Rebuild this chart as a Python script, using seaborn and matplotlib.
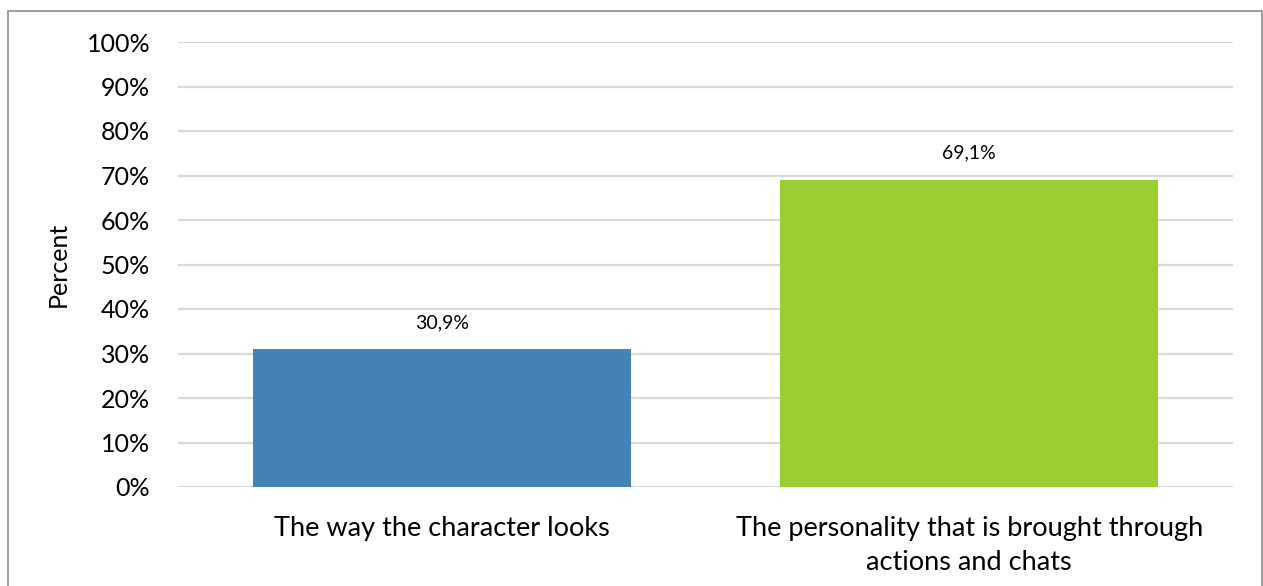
import matplotlib
matplotlib.use("Agg")
import matplotlib.pyplot as plt
import matplotlib.patches as mpatches
import seaborn as sns
import pandas as pd

categories = ["The way the character looks",
              "The personality that is brought through\nactions and chats"]
values = [30.9, 69.1]
value_labels = ["30,9%", "69,1%"]
yticks = [0, 10, 20, 30, 40, 50, 60, 70, 80, 90, 100]
ytick_labels = [f"{t}%" for t in yticks]
colors = ["#4682B4", "#9ACD32"]

sns.set_theme(style="white")
plt.rcParams["font.family"] = ["Lato", "DejaVu Sans"]

df = pd.DataFrame({"category": categories, "value": values})

fig = plt.figure(figsize=(12.63, 5.86), dpi=100)
ax = fig.add_axes([178 / 1263, 1 - 487 / 586, (1233 - 178) / 1263, (487 - 42) / 586])

sns.barplot(data=df, x="category", y="value", hue="category", palette=colors,
            width=0.717, legend=False, ax=ax, saturation=1, linewidth=0)

ax.set_ylim(0, 100)
ax.set_xlim(-0.5, 1.5)
ax.set_yticks(yticks)
ax.set_yticklabels(ytick_labels)
ax.yaxis.grid(True, color="#d9d9d9", linewidth=1.6)
ax.set_axisbelow(True)
for s in ax.spines.values():
    s.set_visible(False)
ax.tick_params(axis="y", length=0, pad=20, labelsize=18, labelcolor="black")
ax.tick_params(axis="x", length=0, pad=21, labelsize=19.5, labelcolor="black")
for t in ax.get_xticklabels():
    t.set_linespacing(1.45)
ax.set_xlabel("")
ax.set_ylabel("Percent", fontsize=18, color="black", labelpad=12)

for i, (v, lab) in enumerate(zip(values, value_labels)):
    ax.annotate(lab, xy=(i, v), xytext=(0, 13), textcoords="offset points",
                ha="center", va="bottom", fontsize=14, color="black")

border = mpatches.Rectangle((8 / 1263, -0.1), (1262 - 8) / 1263, 1.1 - 11 / 586,
                            transform=fig.transFigure, fill=False,
                            edgecolor="#8c8c8c", linewidth=1.2, clip_on=False)
fig.patches.append(border)

fig.savefig("out.png", dpi=100, facecolor="white")
